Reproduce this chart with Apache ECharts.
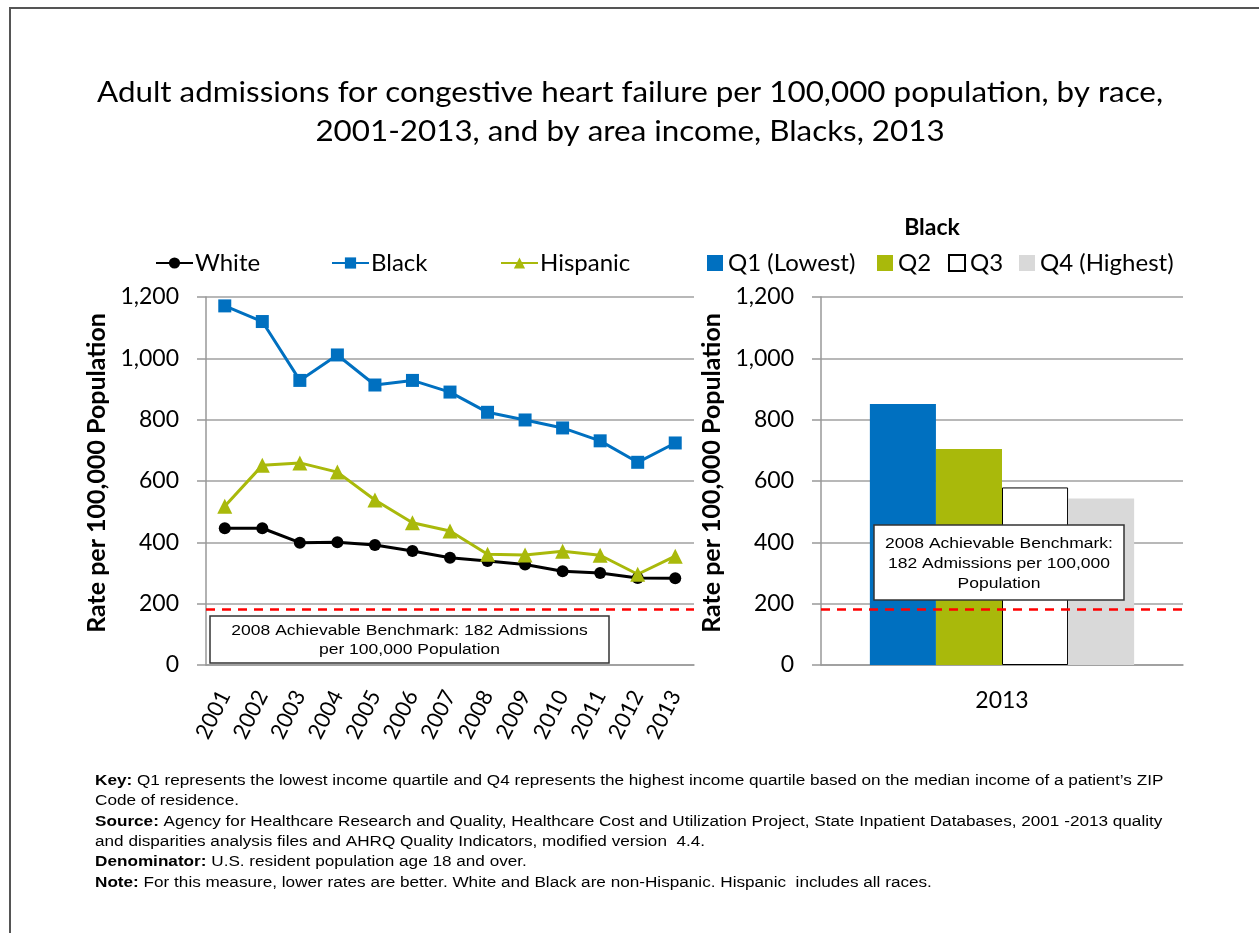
<!DOCTYPE html>
<html>
<head>
<meta charset="utf-8">
<script src="https://cdn.jsdelivr.net/npm/echarts@6/dist/echarts.min.js"></script>
<style>
  html, body { margin: 0; padding: 0; background: #fff; }
  #chart { width: 1259px; height: 933px; }
</style>
</head>
<body>
<div id="chart"></div>
<script>
// line chart data
var years = ['2001', '2002', '2003', '2004', '2005', '2006', '2007', '2008', '2009', '2010', '2011', '2012', '2013'];
var white = [446, 446, 399, 400, 391, 372, 350, 339, 328, 306, 300, 284, 283];
var black = [1171, 1120, 928, 1011, 913, 928, 890, 824, 799, 773, 731, 661, 724];
var hispanic = [518, 651, 659, 629, 538, 464, 437, 361, 359, 371, 358, 296, 355];

// bar chart data (Blacks, 2013, by area income)
var barYear = ['2013'];
var quartiles = ['Q1 (Lowest)', 'Q2', 'Q3', 'Q4 (Highest)'];
var quartileValues = [851, 704, 579, 543];

var benchmark = 182;
var yTicks = [0, 200, 400, 600, 800, 1000, 1200];

var BLUE = '#0070C0', GREEN = '#A9B90B', GRAY = '#D9D9D9';
var baseFont = 'Lato, "Open Sans", sans-serif';
var footFont = '"Liberation Sans", Arial, sans-serif';

var chart = echarts.init(document.getElementById('chart'));

function fmt(v) {
  return v.toLocaleString('en-US');
}

function yAxisCfg(gridIndex) {
  return {
    gridIndex: gridIndex,
    type: 'value',
    min: yTicks[0],
    max: yTicks[yTicks.length - 1],
    interval: 200,
    name: 'Rate per 100,000 Population',
    nameLocation: 'middle',
    nameGap: 97,
    nameTextStyle: { fontFamily: baseFont, fontSize: 25, fontWeight: 'bold', color: '#000', padding: [0, 0, 0, 16] },
    axisLine: { show: true, lineStyle: { color: '#999', width: 1.5 } },
    axisTick: { show: true, length: 9, lineStyle: { color: '#999', width: 1.5 } },
    axisLabel: { formatter: fmt, fontFamily: baseFont, fontSize: 23, color: '#000', margin: 27 },
    splitLine: { lineStyle: { color: '#A0A0A0', width: 1.5 } }
  };
}

var redLine = {
  silent: true,
  symbol: 'none',
  label: { show: false },
  lineStyle: { color: '#FF0000', type: [9, 7], width: 2.5 },
  data: [{ yAxis: benchmark }]
};

var lineSeries = [
  { name: 'White', data: white, color: '#000', symbol: 'circle', symbolSize: 12 },
  { name: 'Black', data: black, color: BLUE, symbol: 'rect', symbolSize: 13 },
  { name: 'Hispanic', data: hispanic, color: GREEN, symbol: 'triangle', symbolSize: 15 }
].map(function (s) {
  return {
    name: s.name,
    type: 'line',
    xAxisIndex: 0,
    yAxisIndex: 0,
    data: s.data,
    symbol: s.symbol,
    symbolSize: s.symbolSize,
    lineStyle: { color: s.color, width: 3 },
    itemStyle: { color: s.color },
    z: 3
  };
});
lineSeries[0].markLine = redLine;

var barColors = [BLUE, GREEN, '#FFFFFF', GRAY];
var barSeries = quartiles.map(function (q, i) {
  return {
    name: q,
    type: 'bar',
    xAxisIndex: 1,
    yAxisIndex: 1,
    data: [quartileValues[i]],
    barGap: '0%',
    barCategoryGap: '27%',
    itemStyle: {
      color: barColors[i],
      borderColor: i === 2 ? '#000' : barColors[i],
      borderWidth: i === 2 ? 1 : 0
    }
  };
});
barSeries[3].markLine = redLine;

// one legend per item so each lands where the reference puts it
var lineLegendLeft = [150, 326, 495];
var barLegendLeft = [702, 872, 943, 1014];
var legends = [];
['White', 'Black', 'Hispanic'].forEach(function (n, i) {
  legends.push({
    data: [n], left: lineLegendLeft[i], top: 246,
    itemWidth: 37, itemHeight: 14,
    textStyle: { fontFamily: baseFont, fontSize: 24, color: '#000', padding: [0, 0, 0, -3] }
  });
});
quartiles.forEach(function (n, i) {
  legends.push({
    data: [n], left: barLegendLeft[i], top: 246, icon: 'rect',
    itemWidth: 16, itemHeight: 16,
    textStyle: { fontFamily: baseFont, fontSize: 24, color: '#000' }
  });
});

var footLines = [
  '{b|Key:} Q1 represents the lowest income quartile and Q4 represents the highest income quartile based on the median income of a patient\u2019s ZIP',
  'Code of residence.',
  '{b|Source:} Agency for Healthcare Research and Quality, Healthcare Cost and Utilization Project, State Inpatient Databases, 2001 -2013 quality',
  'and disparities analysis files and AHRQ Quality Indicators, modified version  4.4.',
  '{b|Denominator:} U.S. resident population age 18 and over.',
  '{b|Note:} For this measure, lower rates are better. White and Black are non-Hispanic. Hispanic  includes all races.'
];

function noteBox(x, y, w, h, text, lh) {
  return [
    {
      type: 'rect', z: 100,
      shape: { x: x, y: y, width: w, height: h },
      style: { fill: '#fff', stroke: '#333', lineWidth: 1.5 }
    },
    {
      type: 'text', z: 101,
      x: x + w / 2, y: y + h / 2 + 1,
      scaleX: 1.13,
      style: {
        text: text,
        font: '15.5px ' + footFont,
        fill: '#000',
        align: 'center',
        verticalAlign: 'middle',
        lineHeight: lh
      }
    }
  ];
}

chart.setOption({
  backgroundColor: '#fff',
  animation: false,
  textStyle: { fontFamily: baseFont },
  legend: legends,
  grid: [
    { left: 206, top: 297, width: 488, height: 368 },
    { left: 821, top: 297, width: 362, height: 368 }
  ],
  xAxis: [
    {
      gridIndex: 0,
      type: 'category',
      data: years,
      axisLine: { lineStyle: { color: '#999', width: 1.5 } },
      axisTick: { length: 8, lineStyle: { color: '#999', width: 1.5 } },
      axisLabel: { rotate: 63, fontFamily: baseFont, fontSize: 22, color: '#000', margin: 27 }
    },
    {
      gridIndex: 1,
      type: 'category',
      data: barYear,
      axisLine: { lineStyle: { color: '#999', width: 1.5 } },
      axisTick: { length: 8, lineStyle: { color: '#999', width: 1.5 } },
      axisLabel: { fontFamily: baseFont, fontSize: 23, color: '#000', margin: 24 }
    }
  ],
  yAxis: [yAxisCfg(0), yAxisCfg(1)],
  series: lineSeries.concat(barSeries),
  graphic: [
    // outer frame
    {
      type: 'polyline',
      shape: { points: [[10, 933], [10, 8], [1259, 8]] },
      style: { stroke: '#555', lineWidth: 2, fill: null },
      silent: true
    },
    // main title
    {
      type: 'text',
      x: 630, y: 112,
      scaleX: 1.12,
      style: {
        text: 'Adult admissions for congestive heart failure per 100,000 population, by race,\n2001-2013, and by area income, Blacks, 2013',
        font: '28px ' + baseFont,
        fill: '#000',
        align: 'center',
        verticalAlign: 'middle',
        lineHeight: 39
      }
    },
    // heading of the income legend
    {
      type: 'text',
      x: 932, y: 228,
      style: {
        text: 'Black',
        font: 'bold 23px ' + baseFont,
        fill: '#000',
        align: 'center',
        verticalAlign: 'middle'
      }
    },
    // footnotes
    {
      type: 'text',
      x: 95, y: 771,
      scaleX: 1.225,
      style: {
        text: footLines.join('\n'),
        font: '14px ' + footFont,
        fill: '#000',
        lineHeight: 20.3,
        rich: {
          b: { font: 'bold 14px ' + footFont, fill: '#000', lineHeight: 20.3 }
        }
      }
    }
  ].concat(
    noteBox(210, 616, 399, 47, '2008 Achievable Benchmark: 182 Admissions\nper 100,000 Population', 19),
    noteBox(874, 525, 250, 75, '2008 Achievable Benchmark:\n182 Admissions per 100,000\nPopulation', 20)
  )
});
</script>
</body>
</html>
